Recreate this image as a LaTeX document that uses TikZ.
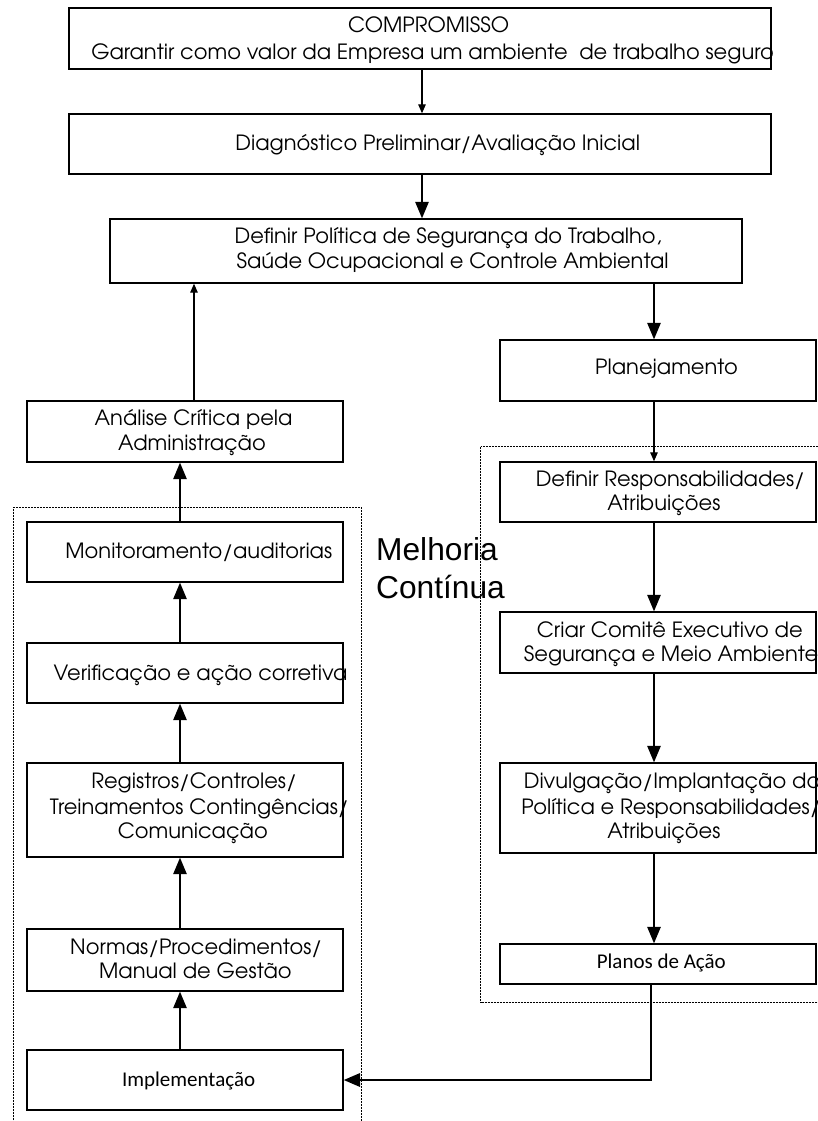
\documentclass[tikz,border=0pt]{standalone}
\usepackage{fontspec}
\newfontfamily\cgf{TeX Gyre Adventor}
\newfontfamily\calf{Carlito}
\newfontfamily\arf{Liberation Sans}
\usetikzlibrary{arrows.meta}
\begin{document}
\begin{tikzpicture}[x=1pt,y=-1pt,
  box/.style={draw, line width=1.4pt, inner sep=0pt, fill=none},
  txt/.style={inner sep=0pt, anchor=base, font=\cgf\fontsize{21}{25}\selectfont},
  txtw/.style={txt, anchor=base west},
  ctxt/.style={inner sep=0pt, anchor=base, font=\calf\fontsize{21}{25}\selectfont},
  mtxt/.style={inner sep=0pt, anchor=base west, font=\arf\fontsize{31.7}{38}\selectfont},
  big/.style={-{Triangle[length=16.5pt,width=13.5pt]}, line width=1.3pt},
  small/.style={-{Triangle[length=9pt,width=7.5pt]}, line width=1.3pt},
  dotrect/.style={line width=0.8pt, dash pattern=on 0.8pt off 0.7pt}]
\useasboundingbox (0,0) rectangle (817,1121);

% dotted frames
\draw[dotrect] (13,507) rectangle (361,1126);
\draw[dotrect] (480.5,446.5) rectangle (822,1002);

% boxes
\node[box, minimum width=702pt, minimum height=61pt] (comp) at (420,38.5) {};
\node[box, minimum width=702pt, minimum height=60pt] (diag) at (420,144) {};
\node[box, minimum width=632pt, minimum height=64pt] (pol) at (426,251) {};
\node[box, minimum width=316pt, minimum height=61pt] (plan) at (658,370.5) {};
\node[box, minimum width=316pt, minimum height=61pt] (anal) at (185,431.5) {};
\node[box, minimum width=316pt, minimum height=60pt] (resp) at (658,492) {};
\node[box, minimum width=316pt, minimum height=60pt] (mon) at (185,552) {};
\node[box, minimum width=316pt, minimum height=60pt] (ver) at (185,673) {};
\node[box, minimum width=316pt, minimum height=94pt] (reg) at (185,810) {};
\node[box, minimum width=316pt, minimum height=61pt] (criar) at (658,642.5) {};
\node[box, minimum width=316pt, minimum height=90pt] (div) at (658,808) {};
\node[box, minimum width=316pt, minimum height=62pt] (norm) at (185,960) {};
\node[box, minimum width=316pt, minimum height=60pt] (impl) at (185,1080) {};
\node[box, minimum width=316pt, minimum height=40pt] (planos) at (658,964) {};

% texts
\node[txt] (t1a) at (428.6,32.7) {COMPROMISSO};
\node[txt] (t1b) at (432.5,59.3) {Garantir como valor da Empresa um ambiente~ de trabalho seguro};
\node[txt] (t2) at (437.7,150.7) {Diagnóstico Preliminar/Avaliação Inicial};
\node[txt] (t3a) at (448.1,243.3) {Definir Política de Segurança do Trabalho,};
\node[txt] (t3b) at (452.6,268.3) {Saúde Ocupacional e Controle Ambiental};
\node[txt] (t4) at (666.5,374.3) {Planejamento};
\node[txt] (t5a) at (193.6,425) {Análise Crítica pela};
\node[txt] (t5b) at (192,450) {Administração};
\node[txt] (t6a) at (670.4,486.7) {Definir Responsabilidades/};
\node[txt] (t6b) at (663.9,510) {Atribuições};
\node[txt] (t7) at (198.8,558.3) {Monitoramento/auditorias};
\node[txt] (t8) at (200.6,680) {Verificação e ação corretiva};
\node[txt] (t9a) at (194.1,788.3) {Registros/Controles/};
\node[txt] (t9b) at (199.3,814) {Treinamentos Contingências/};
\node[txt] (t9c) at (192.8,838.3) {Comunicação};
\node[txtw] (t10a) at (536.7,637.3) {Criar Comitê Executivo de};
\node[txtw] (t10b) at (523.7,661.7) {Segurança e Meio Ambiente};
\node[txtw] (t11a) at (523.7,788.3) {Divulgação/Implantação do};
\node[txtw] (t11b) at (521.1,814) {Política e Responsabilidades/};
\node[txt] (t11c) at (663.9,838.3) {Atribuições};
\node[txt] (t12a) at (196.2,954) {Normas/Procedimentos/};
\node[txt] (t12b) at (195.4,978.3) {Manual de Gestão};
\node[ctxt] (t13) at (188.6,1086.7) {Implementação};
\node[ctxt] (t14) at (661.3,968.3) {Planos de Ação};
\node[mtxt] (m1) at (376,560) {Melhoria};
\node[mtxt] (m2) at (376,598.3) {Contínua};

% connector x positions
\coordinate (xm) at (422,0);
\coordinate (xa) at (194,0);
\coordinate (xr) at (654,0);
\coordinate (xl) at (180,0);
\coordinate (xp) at (651,0);

\draw[small] (comp.south -| xm) -- (diag.north -| xm);
\draw[big] (diag.south -| xm) -- (pol.north -| xm);
\draw[small] (anal.north -| xa) -- (pol.south -| xa);
\draw[big] (pol.south -| xr) -- (plan.north -| xr);
\draw[small] (plan.south -| xr) -- (resp.north -| xr);
\draw[big] (resp.south -| xr) -- (criar.north -| xr);
\draw[big] (criar.south -| xr) -- (div.north -| xr);
\draw[big] (div.south -| xr) -- (planos.north -| xr);
\draw[big, line width=2.2pt] (planos.south -| xp) |- (impl.east);
\draw[big] (mon.north -| xl) -- (anal.south -| xl);
\draw[big] (ver.north -| xl) -- (mon.south -| xl);
\draw[big] (reg.north -| xl) -- (ver.south -| xl);
\draw[big] (norm.north -| xl) -- (reg.south -| xl);
\draw[big] (impl.north -| xl) -- (norm.south -| xl);
\end{tikzpicture}
\end{document}
